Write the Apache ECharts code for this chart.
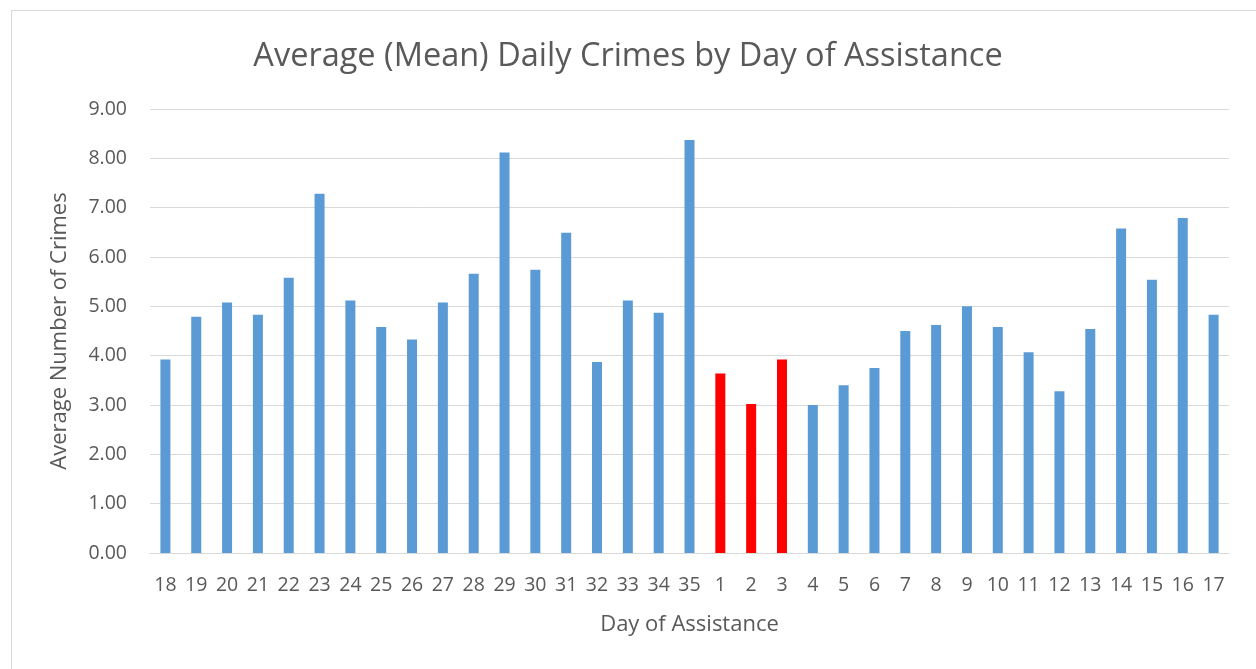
<!DOCTYPE html>
<html>
<head>
<meta charset="utf-8">
<script src="https://cdn.jsdelivr.net/npm/echarts@6/dist/echarts.min.js"></script>
<style>
    html, body { margin: 0; padding: 0; background: #fff; }
    #chart { width: 1256px; height: 669px; }
    #frame { position: absolute; left: 11px; top: 10px; right: -2px; bottom: -2px; border: 1px solid #d9d9d9; pointer-events: none; }
</style>
</head>
<body>
<div id="chart"></div>
<div id="frame"></div>
<script>
// Day of assistance, in the order shown on the axis
const days = ['18', '19', '20', '21', '22', '23', '24', '25', '26', '27', '28', '29', '30', '31', '32', '33', '34', '35',
    '1', '2', '3', '4', '5', '6', '7', '8', '9', '10', '11', '12', '13', '14', '15', '16', '17'];

// Average daily crimes for each day
const avgCrimes = [3.92, 4.79, 5.08, 4.83, 5.58, 7.28, 5.12, 4.58, 4.33, 5.08, 5.66, 8.12, 5.74, 6.49, 3.87, 5.12, 4.87, 8.37,
    3.64, 3.02, 3.92, 3.00, 3.40, 3.75, 4.50, 4.62, 5.00, 4.58, 4.07, 3.28, 4.54, 6.58, 5.54, 6.79, 4.83];

// Days drawn in red
const highlightDays = ['1', '2', '3'];

const font = 'Open Sans';
const textColor = '#595959';

const myChart = echarts.init(document.getElementById('chart'));

const option = {
    title: {
        text: 'Average (Mean) Daily Crimes by Day of Assistance',
        left: 'center',
        top: 35,
        textStyle: { fontFamily: font, fontSize: 32.5, fontWeight: 'normal', color: textColor }
    },
    grid: { left: 150, right: 27, top: 109, bottom: 116 },
    xAxis: {
        type: 'category',
        data: days,
        name: 'Day of Assistance',
        nameLocation: 'middle',
        nameGap: 61,
        nameTextStyle: { fontFamily: font, fontSize: 22, color: textColor },
        axisLine: { lineStyle: { color: '#d9d9d9', width: 1 } },
        axisTick: { show: false },
        axisLabel: { fontFamily: font, fontSize: 19.5, color: textColor, margin: 22, interval: 0 }
    },
    yAxis: {
        type: 'value',
        min: 0,
        max: 9,
        interval: 1,
        name: 'Average Number of Crimes',
        nameLocation: 'middle',
        nameGap: 79,
        nameTextStyle: { fontFamily: font, fontSize: 22, color: textColor },
        axisLine: { show: false },
        axisTick: { show: false },
        axisLabel: {
            fontFamily: font, fontSize: 19.5, color: textColor, margin: 23,
            formatter: v => v.toFixed(2)
        },
        splitLine: { lineStyle: { color: '#d9d9d9', width: 1 } }
    },
    series: [{
        type: 'bar',
        barWidth: 10,
        data: avgCrimes.map((v, i) => ({
            value: v,
            itemStyle: { color: highlightDays.includes(days[i]) ? '#ff0000' : '#5b9bd5' }
        }))
    }]
};

myChart.setOption(option);
</script>
</body>
</html>
